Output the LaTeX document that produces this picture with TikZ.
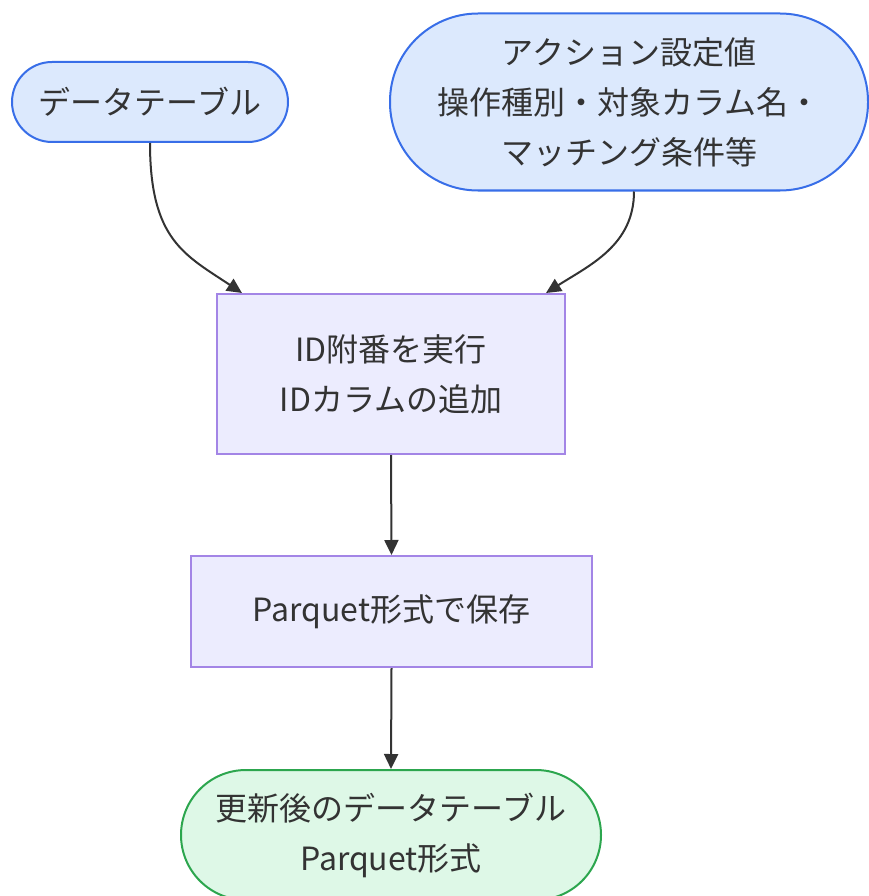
\documentclass[tikz,border=0pt]{standalone}
\usepackage{fontspec}
\setmainfont{Noto Sans CJK JP}
\usetikzlibrary{arrows.meta}
\definecolor{bfill}{RGB}{220,233,253}
\definecolor{bline}{RGB}{56,110,232}
\definecolor{pfill}{RGB}{236,236,254}
\definecolor{pline}{RGB}{163,133,230}
\definecolor{gfill}{RGB}{222,248,231}
\definecolor{gline}{RGB}{44,166,78}
\definecolor{ink}{RGB}{51,51,51}
\tikzset{
  base/.style={align=center, text=ink, line width=2pt, inner sep=0pt,
    font=\fontsize{32}{50}\selectfont},
  startnode/.style={base, draw=bline, fill=bfill},
  procnode/.style={base, draw=pline, fill=pfill},
  endnode/.style={base, draw=gline, fill=gfill},
  conn/.style={draw=ink, line width=2pt, -{Triangle[length=15pt,width=14pt]}}
}
\begin{document}
\begin{tikzpicture}[x=1pt,y=-1pt]
\useasboundingbox (0,0) rectangle (868,896);
\node[startnode, minimum width=276pt, minimum height=80pt, rounded corners=40pt] (A) at (150,102) {データテーブル};
\node[startnode, minimum width=478pt, minimum height=177pt, rounded corners=88pt] (B) at (629,102) {アクション設定値\\操作種別・対象カラム名・\\マッチング条件等};
\node[procnode, minimum width=348pt, minimum height=160pt] (C) at (391,374) {ID附番を実行\\IDカラムの追加};
\node[procnode, minimum width=401pt, minimum height=111pt] (D) at (391.5,611.5) {Parquet形式で保存};
\node[endnode, minimum width=420pt, minimum height=130pt, rounded corners=65pt] (E) at (391,835) {更新後のデータテーブル\\Parquet形式};
\path[conn] (A.south) .. controls (150,240) and (185,255) .. ([xshift=26pt]C.north west);
\path[conn] ([xshift=5pt]B.south) .. controls (634,245) and (590,265) .. ([xshift=-20pt]C.north east);
\path[conn] (C.south) -- (D.north);
\path[conn] (D.south) -- (E.north);
\end{tikzpicture}
\end{document}
